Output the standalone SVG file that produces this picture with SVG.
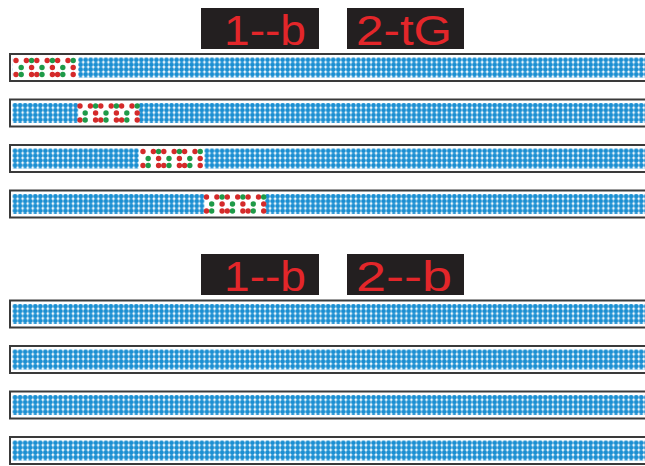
<svg xmlns="http://www.w3.org/2000/svg" width="645" height="466" viewBox="0 0 645 466">
<style>
.box{fill:#231f20}
.seg{fill:#e3262a;font-family:"Liberation Sans",Arial,sans-serif;font-size:42px}
.frame{fill:#ffffff;stroke:#3a3a3a;stroke-width:2}
.r{fill:#d42a2a}
.g{fill:#1e9a48}
.cover{fill:#ffffff}
</style>
<defs>
<pattern id="blue" x="12.5" y="3.5" width="5.05" height="4.8" patternUnits="userSpaceOnUse">
<circle cx="2.525" cy="2.4" r="2.35" fill="#1b8fd2"/>
</pattern>
<g id="grp">
<circle class="r" cx="0" cy="6.5" r="2.7"/>
<circle class="r" cx="10.4" cy="6.5" r="2.7"/>
<circle class="g" cx="15.6" cy="6.5" r="2.7"/>
<circle class="g" cx="5.2" cy="13.5" r="2.7"/>
<circle class="r" cx="15.6" cy="13.5" r="2.7"/>
<circle class="r" cx="0" cy="20.5" r="2.7"/>
<circle class="g" cx="5.2" cy="20.5" r="2.7"/>
<circle class="r" cx="15.6" cy="20.5" r="2.7"/>
</g>
<g id="rg">
<use href="#grp" x="0"/>
<use href="#grp" x="20.8"/>
<use href="#grp" x="41.6"/>
</g>
<g id="strip">
<rect class="frame" x="10" y="0" width="650" height="27"/>
<rect x="12.5" y="3.5" width="648" height="20" fill="url(#blue)"/>
</g>
</defs>
<g id="display-top-1"><rect class="box" x="201" y="8" width="118" height="41"/><text class="seg" x="224" y="45" textLength="82" lengthAdjust="spacingAndGlyphs">1--b</text></g>
<g id="display-top-2"><rect class="box" x="347" y="8" width="117" height="41"/><text class="seg" x="356" y="45" textLength="96" lengthAdjust="spacingAndGlyphs">2-tG</text></g>
<g id="strip-1" transform="translate(0,54)"><use href="#strip"/><rect class="cover" x="12.5" y="2" width="65.6" height="23"/><use href="#rg" x="16"/></g>
<g id="strip-2" transform="translate(0,99.5)"><use href="#strip"/><rect class="cover" x="78.2" y="2" width="60.6" height="23"/><use href="#rg" x="80"/></g>
<g id="strip-3" transform="translate(0,145)"><use href="#strip"/><rect class="cover" x="138.8" y="2" width="65.6" height="23"/><use href="#rg" x="143"/></g>
<g id="strip-4" transform="translate(0,190.5)"><use href="#strip"/><rect class="cover" x="204.4" y="2" width="60.6" height="23"/><use href="#rg" x="206.5"/></g>
<g id="display-bottom-1"><rect class="box" x="201" y="254" width="118" height="41"/><text class="seg" x="224" y="291" textLength="82" lengthAdjust="spacingAndGlyphs">1--b</text></g>
<g id="display-bottom-2"><rect class="box" x="347" y="254" width="117" height="41"/><text class="seg" x="356" y="291" textLength="96" lengthAdjust="spacingAndGlyphs">2--b</text></g>
<g id="strip-5" transform="translate(0,300.5)"><use href="#strip"/></g>
<g id="strip-6" transform="translate(0,346)"><use href="#strip"/></g>
<g id="strip-7" transform="translate(0,391.5)"><use href="#strip"/></g>
<g id="strip-8" transform="translate(0,437)"><use href="#strip"/></g>
</svg>
